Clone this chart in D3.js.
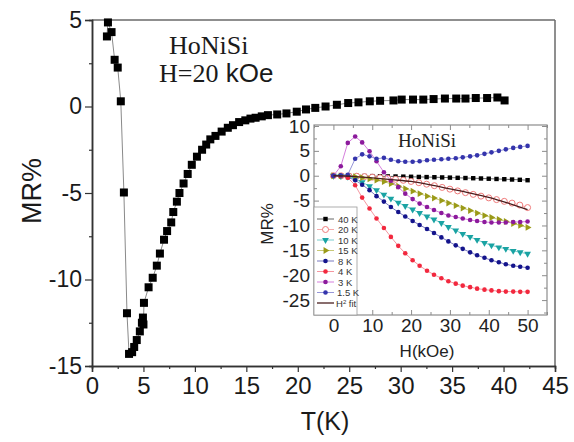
<!DOCTYPE html>
<html>
<head>
<meta charset="utf-8">
<script src="https://cdn.jsdelivr.net/npm/d3@7"></script>
<style>
  body { margin: 0; background: #fff; }
  text { font-family: "Liberation Sans", Arial, sans-serif; }
</style>
</head>
<body>
<div id="wrapper"></div>
<script>
// main panel: MR vs T at 20 kOe
const mainT = [1.45, 1.55, 1.9, 2.2, 2.5, 2.8, 3.1, 3.4, 3.6, 3.9, 4.1, 4.35, 4.65, 4.85, 4.95, 5.0, 5.05, 5.5, 5.9, 6.3,
  6.6, 7.0, 7.3, 7.7, 7.9, 8.25, 8.5, 8.9, 9.3, 9.7, 10.2, 10.7, 11.1, 11.5, 12.0, 12.6, 13.2, 13.7, 14.3, 14.9,
  15.4, 15.9, 16.5, 17.1, 18.0, 18.9, 19.9, 20.8, 21.7, 22.7, 23.8, 24.9, 25.9, 27.0, 28.0, 29.3, 30.1, 31.2, 32.2, 33.2,
  34.3, 35.4, 36.3, 37.3, 38.4, 39.4, 40.1]
const mainMR = [4.05, 4.86, 4.3, 2.7, 2.25, 0.3, -4.97, -11.95, -14.3, -14.2, -13.9, -13.5, -13.0, -12.5, -12.2, -12.6, -11.35, -10.45, -9.9, -9.2,
  -8.5, -7.7, -7.2, -6.7, -6.1, -5.5, -5.0, -4.45, -3.9, -3.37, -2.9, -2.5, -2.2, -1.9, -1.7, -1.45, -1.23, -1.08, -0.9, -0.8,
  -0.7, -0.65, -0.57, -0.5, -0.46, -0.4, -0.3, -0.17, -0.08, 0, 0.1, 0.2, 0.24, 0.3, 0.33, 0.35, 0.4, 0.4, 0.4, 0.43,
  0.46, 0.46, 0.46, 0.49, 0.49, 0.52, 0.35]

const mainXTicks = [0, 5, 10, 15, 20, 25, 30, 35, 40, 45]
const mainYTicks = [-15, -10, -5, 0, 5]

// inset: MR vs H at several temperatures
const hA = [0, 2, 4, 6, 8, 10, 12, 14, 16, 18, 20, 22, 24, 26, 28, 30, 32, 34, 36, 38, 40, 42, 44, 46, 48, 50]
const hB = [0, 1.9, 3.7, 5.6, 7.4, 9.3, 11.1, 13, 14.8, 16.7, 18.5, 20.4, 22.2, 24.1, 25.9, 27.8, 29.6, 31.5, 33.3, 35.2,
  37, 38.9, 40.7, 42.6, 44.4, 46.3, 48.1, 50]

const mr40K = [0, 0, -0.02, -0.04, -0.06, -0.08, -0.1, -0.13, -0.15, -0.18, -0.21, -0.24, -0.27, -0.3, -0.34, -0.38,
  -0.42, -0.46, -0.5, -0.55, -0.6, -0.65, -0.7, -0.76, -0.82, -0.9]
const mr20K = [0, -0.02, -0.05, -0.1, -0.18, -0.28, -0.4, -0.55, -0.72, -0.92, -1.15, -1.4, -1.7, -2.0, -2.35, -2.7,
  -3.05, -3.4, -3.75, -4.1, -4.45, -4.8, -5.15, -5.5, -5.9, -6.4]
const mr10K = [0, -0.05, -0.2, -0.6, -1.3, -2.1, -2.9, -3.8, -4.6, -5.4, -6.1, -6.8, -7.5, -8.2, -8.8, -9.5, -10.3, -11,
  -11.7, -12.3, -12.9, -13.5, -14, -14.4, -14.7, -15.1, -15.4, -15.7]
const mr15K = [0, -0.02, -0.1, -0.2, -0.4, -0.65, -0.9, -1.2, -1.6, -2.1, -2.6, -3.1, -3.6, -4.1, -4.5, -5.0, -5.5, -6.0,
  -6.5, -7.0, -7.5, -8.0, -8.4, -8.8, -9.2, -9.6, -10.0, -10.4]
const mr8K = [0, -0.05, -0.3, -0.9, -1.8, -2.9, -4.1, -5.2, -6.3, -7.3, -8.2, -9.1, -9.9, -10.7, -11.5, -12.4, -13.2,
  -14.0, -14.7, -15.4, -16.0, -16.5, -17.0, -17.4, -17.8, -18.1, -18.3, -18.5]
const mr4K = [0, -0.05, -0.4, -1.9, -4.4, -6.6, -8.6, -10.5, -12.3, -14.1, -15.6, -17.0, -18.1, -19.1, -19.9, -20.6,
  -21.2, -21.7, -22.1, -22.4, -22.7, -22.9, -23.05, -23.2, -23.3, -23.3, -23.35, -23.35]
const mr3K = [0, 1.9, 6.6, 7.9, 6.7, 4.9, 2.9, 0.7, -1.0, -2.3, -3.6, -4.7, -5.6, -6.3, -6.9, -7.5, -8.0, -8.3, -8.6,
  -8.9, -9.1, -9.3, -9.4, -9.4, -9.4, -9.3, -9.3, -9.2]
const mr15 = [0, 0.1, 0.2, 3.4, 4.3, 3.9, 3.4, 3.6, 3.2, 2.9, 2.8, 2.8, 2.9, 3.1, 3.2, 3.3, 3.4, 3.5, 3.7, 3.9, 4.1,
  4.4, 4.7, 5.0, 5.3, 5.6, 5.8, 6.0]
const fitH = [0, 5, 10, 15, 20, 25, 30, 35, 40, 45, 50]
const fitMR = [0, -0.12, -0.45, -0.8, -1.15, -1.85, -2.65, -3.45, -4.35, -5.5, -6.8]

const insetXTicks = [0, 10, 20, 30, 40, 50]
const insetYTicks = [-25, -20, -15, -10, -5, 0, 5, 10]

const series = [
  { label: "40 K", h: hA, mr: mr40K, marker: "square", color: "#000000", line: "#555555" },
  { label: "20 K", h: hA, mr: mr20K, marker: "open", color: "#f07a7a", line: "#f4a0a0" },
  { label: "10 K", h: hB, mr: mr10K, marker: "down", color: "#1aa3a3", line: "#6cc8c8" },
  { label: "15 K", h: hB, mr: mr15K, marker: "right", color: "#9a9a18", line: "#c2c266" },
  { label: "8 K", h: hB, mr: mr8K, marker: "circle", color: "#14148c", line: "#6a6ab8" },
  { label: "4 K", h: hB, mr: mr4K, marker: "circle", color: "#f2283e", line: "#f48a95" },
  { label: "3 K", h: hB, mr: mr3K, marker: "circle", color: "#8c1a9c", line: "#d070d8" },
  { label: "1.5 K", h: hB, mr: mr15, marker: "circle", color: "#3434ac", line: "#8a8ad4" }
]

const width = 574
const height = 442

const svg = d3.select("#wrapper")
  .append("svg")
  .attr("width", width)
  .attr("height", height)

svg.append("rect").attr("width", width).attr("height", height).attr("fill", "#fff")

const x = d3.scaleLinear().domain([0, 45]).range([92, 555])
const y = d3.scaleLinear().domain([-15, 5]).range([366, 20])

// frame top / right
svg.append("line").attr("x1", x(0)).attr("x2", x(45)).attr("y1", y(5)).attr("y2", y(5))
  .attr("stroke", "#6a6a6a").attr("stroke-width", 1.5)
svg.append("line").attr("x1", x(45)).attr("x2", x(45)).attr("y1", y(5)).attr("y2", y(-15))
  .attr("stroke", "#6a6a6a").attr("stroke-width", 1.5)

const fmt = d => String(d)

const xAxis = svg.append("g")
  .attr("transform", `translate(0,${y(-15)})`)
  .call(d3.axisBottom(x).tickValues(mainXTicks).tickSize(6).tickPadding(5).tickFormat(fmt))
svg.append("g")
  .attr("transform", `translate(0,${y(-15)})`)
  .call(d3.axisBottom(x).tickValues(d3.range(2.5, 45, 5)).tickSize(3).tickFormat(""))

const yAxis = svg.append("g")
  .attr("transform", `translate(${x(0)},0)`)
  .call(d3.axisLeft(y).tickValues(mainYTicks).tickSize(7).tickPadding(3).tickFormat(fmt))
svg.append("g")
  .attr("transform", `translate(${x(0)},0)`)
  .call(d3.axisLeft(y).tickValues([-12.5, -7.5, -2.5, 2.5]).tickSize(3).tickFormat(""))

svg.selectAll(".domain").attr("stroke", "#333").attr("stroke-width", 1.5)
svg.selectAll(".tick line").attr("stroke", "#333").attr("stroke-width", 1.2)
xAxis.selectAll("text").style("font-size", "24px").attr("fill", "#1a1a1a")
yAxis.selectAll("text").style("font-size", "23px").attr("fill", "#1a1a1a")

svg.append("text")
  .attr("x", 325).attr("y", 430)
  .attr("text-anchor", "middle")
  .style("font-size", "25px").attr("fill", "#1a1a1a")
  .text("T(K)")

svg.append("text")
  .attr("transform", `translate(41,191) rotate(-90)`)
  .attr("text-anchor", "middle")
  .style("font-size", "27px").attr("fill", "#1a1a1a")
  .text("MR%")

svg.append("text")
  .attr("x", 169).attr("y", 54)
  .style("font-family", "'Liberation Serif', 'Times New Roman', serif")
  .style("font-size", "26px").attr("fill", "#1a1a1a")
  .text("HoNiSi")

const hLabel = svg.append("text")
  .attr("x", 159).attr("y", 82)
  .style("font-size", "26px").attr("fill", "#1a1a1a")
hLabel.append("tspan").style("font-family", "'Liberation Serif', 'Times New Roman', serif").text("H=20")
hLabel.append("tspan").text(" kOe")

// main data
const mainData = mainT.map((t, i) => ({ t, mr: mainMR[i] }))

svg.append("path")
  .datum(mainData)
  .attr("fill", "none")
  .attr("stroke", "#8a8a8a")
  .attr("stroke-width", 1)
  .attr("d", d3.line().x(d => x(d.t)).y(d => y(d.mr)))

svg.selectAll(".sq")
  .data(mainData)
  .join("rect")
  .attr("x", d => x(d.t) - 4)
  .attr("y", d => y(d.mr) - 4)
  .attr("width", 8)
  .attr("height", 8)
  .attr("fill", "#000")

// inset
const ix = d3.scaleLinear().domain([-5, 55]).range([314, 547])
const iy = d3.scaleLinear().domain([-28, 10.2]).range([315, 125])

const inset = svg.append("g")

inset.append("rect")
  .attr("x", ix(-5)).attr("y", iy(10.2))
  .attr("width", ix(55) - ix(-5)).attr("height", iy(-28) - iy(10.2))
  .attr("fill", "#fff").attr("stroke", "#8c8c8c").attr("stroke-width", 1.2)

const iXAxis = inset.append("g").attr("transform", `translate(0,${iy(-28)})`)
  .call(d3.axisBottom(ix).tickValues(insetXTicks).tickSize(-5).tickPadding(4).tickFormat(fmt))
inset.append("g").attr("transform", `translate(0,${iy(-28)})`)
  .call(d3.axisBottom(ix).tickValues([-5, 5, 15, 25, 35, 45, 55]).tickSize(-3).tickFormat(""))
inset.append("g").attr("transform", `translate(0,${iy(10.2)})`)
  .call(d3.axisTop(ix).tickValues(insetXTicks).tickSize(-5).tickFormat(""))
inset.append("g").attr("transform", `translate(0,${iy(10.2)})`)
  .call(d3.axisTop(ix).tickValues([-5, 5, 15, 25, 35, 45, 55]).tickSize(-3).tickFormat(""))

const iYAxis = inset.append("g").attr("transform", `translate(${ix(-5)},0)`)
  .call(d3.axisLeft(iy).tickValues(insetYTicks).tickSize(-5).tickPadding(4).tickFormat(fmt))
inset.append("g").attr("transform", `translate(${ix(-5)},0)`)
  .call(d3.axisLeft(iy).tickValues([-27.5, -22.5, -17.5, -12.5, -7.5, -2.5, 2.5, 7.5]).tickSize(-3).tickFormat(""))
inset.append("g").attr("transform", `translate(${ix(55)},0)`)
  .call(d3.axisRight(iy).tickValues(insetYTicks).tickSize(-5).tickFormat(""))
inset.append("g").attr("transform", `translate(${ix(55)},0)`)
  .call(d3.axisRight(iy).tickValues([-27.5, -22.5, -17.5, -12.5, -7.5, -2.5, 2.5, 7.5]).tickSize(-3).tickFormat(""))

inset.selectAll(".domain").attr("stroke", "none")
inset.selectAll(".tick line").attr("stroke", "#8c8c8c")
iXAxis.selectAll("text").style("font-size", "19px").attr("fill", "#222")
iYAxis.selectAll("text").style("font-size", "19px").attr("fill", "#222")

inset.append("text")
  .attr("x", 427).attr("y", 357)
  .attr("text-anchor", "middle")
  .style("font-size", "17px").attr("fill", "#222")
  .text("H(kOe)")

inset.append("text")
  .attr("transform", `translate(273,224) rotate(-90)`)
  .attr("text-anchor", "middle")
  .style("font-size", "17px").attr("fill", "#222")
  .text("MR%")

inset.append("text")
  .attr("x", 398).attr("y", 147)
  .style("font-family", "'Liberation Serif', 'Times New Roman', serif")
  .style("font-size", "19px").attr("fill", "#222")
  .text("HoNiSi")

const iLine = d3.line().x(d => ix(d.h)).y(d => iy(d.mr))

const drawMarker = (sel, s, px, py) => {
  if (s.marker === "square") {
    sel.append("rect").attr("x", px - 2.2).attr("y", py - 2.2).attr("width", 4.4).attr("height", 4.4).attr("fill", s.color)
  } else if (s.marker === "open") {
    sel.append("circle").attr("cx", px).attr("cy", py).attr("r", 3).attr("fill", "#fff").attr("stroke", s.color).attr("stroke-width", 1)
  } else if (s.marker === "down" || s.marker === "right") {
    const rot = s.marker === "down" ? 180 : 90
    sel.append("path").attr("d", d3.symbol(d3.symbolTriangle, 20)())
      .attr("transform", `translate(${px},${py}) rotate(${rot})`).attr("fill", s.color)
  } else {
    sel.append("circle").attr("cx", px).attr("cy", py).attr("r", 2.3).attr("fill", s.color)
  }
}

series.forEach(s => {
  const pts = s.h.map((h, i) => ({ h, mr: s.mr[i] }))
  const g = inset.append("g")
  g.append("path").datum(pts).attr("fill", "none").attr("stroke", s.line).attr("stroke-width", 0.9).attr("d", iLine)
  pts.forEach(p => drawMarker(g, s, ix(p.h), iy(p.mr)))
})

const fitPts = fitH.map((h, i) => ({ h, mr: fitMR[i] }))
inset.append("path").datum(fitPts)
  .attr("fill", "none").attr("stroke", "#4a1e1e").attr("stroke-width", 1.3)
  .attr("d", d3.line().x(d => ix(d.h)).y(d => iy(d.mr)).curve(d3.curveMonotoneX))

// legend
const legend = inset.append("g")
legend.append("rect")
  .attr("x", 314).attr("y", 207).attr("width", 43).attr("height", 108)
  .attr("fill", "#fff").attr("stroke", "#9a9a9a").attr("stroke-width", 0.8)

const legendItems = series.map(s => s).concat([{ label: "fit", fit: true }])
legendItems.forEach((s, i) => {
  const ly = 219 + i * 10.5
  const row = legend.append("g")
  if (s.fit) {
    row.append("line").attr("x1", 317).attr("x2", 334).attr("y1", ly).attr("y2", ly)
      .attr("stroke", "#4a1e1e").attr("stroke-width", 1.3)
    const t = row.append("text").attr("x", 336).attr("y", ly + 3.5).style("font-size", "9.5px").attr("fill", "#333")
    t.append("tspan").text("H")
    t.append("tspan").attr("dy", -3).style("font-size", "6px").text("2")
    t.append("tspan").attr("dy", 3).text(" fit")
  } else {
    row.append("line").attr("x1", 317).attr("x2", 334).attr("y1", ly).attr("y2", ly)
      .attr("stroke", s.line).attr("stroke-width", 0.9)
    drawMarker(row, s, 325.5, ly)
    row.append("text").attr("x", s.label.length > 4 ? 337 : 338).attr("y", ly + 3.5)
      .style("font-size", "9.5px").attr("fill", "#333").text(s.label)
  }
})
</script>
</body>
</html>
